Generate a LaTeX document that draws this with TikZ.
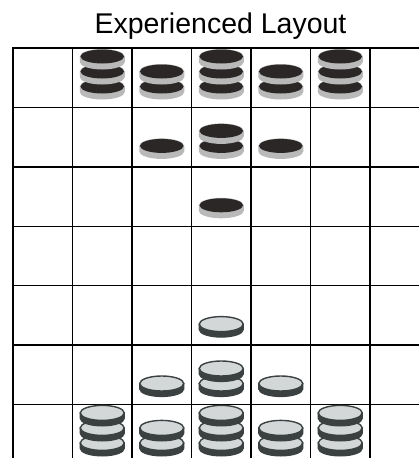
\documentclass[tikz,border=0pt]{standalone}
\usepackage{fontspec}
\setmainfont{Liberation Sans}
\definecolor{coindark}{HTML}{2B2727}
\definecolor{coinrim}{HTML}{B9B9B9}
\definecolor{lightface}{HTML}{D3D7D7}
\definecolor{lightedge}{HTML}{3B4141}
\tikzset{
  gridline/.style={line width=1.4pt, black},
  borderline/.style={line width=2.6pt, black},
  darkside/.style={fill=coinrim},
  darkface/.style={fill=coindark},
  lightside/.style={fill=lightedge, draw=lightedge, line width=1.2pt},
  lightfacestyle/.style={fill=lightface, draw=lightedge, line width=1.4pt},
}
\newcommand{\darkcoin}[2]{%
  \path[darkside] ({#1-22.5},{#2}) -- ({#1-22.5},{#2+5.5}) arc[start angle=180, end angle=0, x radius=22.5, y radius=7.5] -- ({#1+22.5},{#2}) -- cycle;
  \path[darkside] (#1,#2) ellipse [x radius=22.5, y radius=7.5];
  \path[darkface] (#1,#2) ellipse [x radius=21.8, y radius=7];
}
\newcommand{\lightcoin}[2]{%
  \path[lightside] ({#1-22},{#2}) -- ({#1-22},{#2+5.5}) arc[start angle=180, end angle=0, x radius=22, y radius=7.5] -- ({#1+22},{#2}) -- cycle;
  \path[lightfacestyle] (#1,#2) ellipse [x radius=22, y radius=7.5];
}
\newcommand{\coinstack}[4]{%
  \pgfmathsetmacro{\coinX}{13+59.5*(#1-1)+29.75}%
  \pgfmathsetmacro{\coinBase}{48+59.4*(#2-1)+38.5}%
  \foreach \k in {1,...,#3}{%
    \pgfmathsetmacro{\coinY}{\coinBase-15*(\k-1)}%
    \csname #4coin\endcsname{\coinX}{\coinY}%
  }%
}
\begin{document}
\begin{tikzpicture}[x=1pt, y=-1pt]
\useasboundingbox (0,0) rectangle (419,458);
\fill[white] (0,0) rectangle (419,458);
\begin{scope}
\clip (0,0) rectangle (419,458);
\node[font=\fontsize{28.5}{30}\selectfont, anchor=base] (title) at (220.5,33) {Experienced Layout};
\foreach \c in {1,...,7} {
  \draw[gridline] ({13+59.5*\c},48) -- ({13+59.5*\c},460);
}
\foreach \r in {1,...,6} {
  \draw[gridline] (13,{48+59.4*\r}) -- (421,{48+59.4*\r});
}
\draw[borderline] (13,460) -- (13,48) -- (421,48);
% dark coins
\coinstack{2}{1}{3}{dark}
\coinstack{3}{1}{2}{dark}
\coinstack{4}{1}{3}{dark}
\coinstack{5}{1}{2}{dark}
\coinstack{6}{1}{3}{dark}
\coinstack{3}{2}{1}{dark}
\coinstack{4}{2}{2}{dark}
\coinstack{5}{2}{1}{dark}
\coinstack{4}{3}{1}{dark}
% light coins
\coinstack{4}{5}{1}{light}
\coinstack{3}{6}{1}{light}
\coinstack{4}{6}{2}{light}
\coinstack{5}{6}{1}{light}
\coinstack{2}{7}{3}{light}
\coinstack{3}{7}{2}{light}
\coinstack{4}{7}{3}{light}
\coinstack{5}{7}{2}{light}
\coinstack{6}{7}{3}{light}
\end{scope}
\end{tikzpicture}
\end{document}
